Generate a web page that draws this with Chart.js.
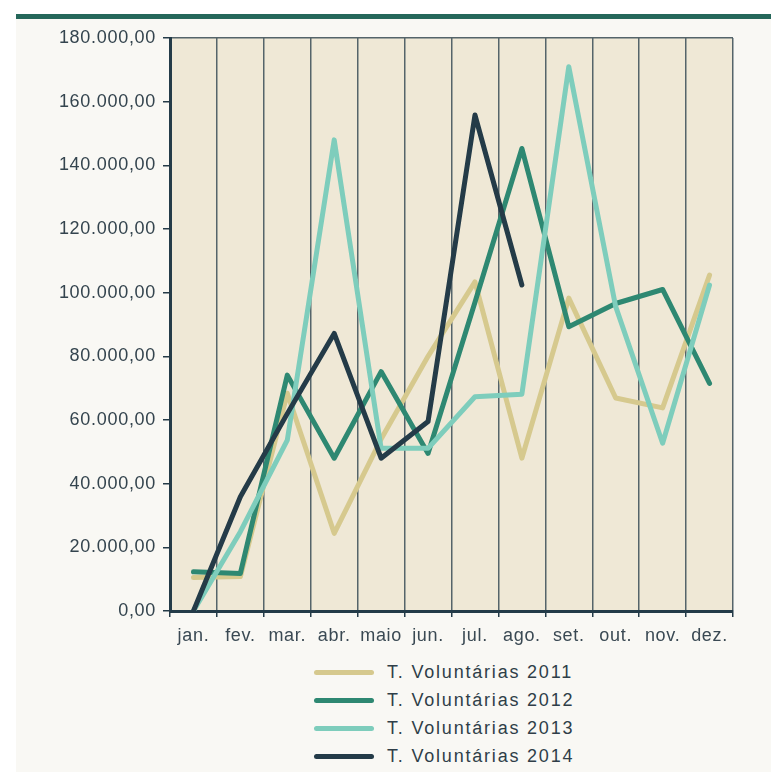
<!DOCTYPE html>
<html>
<head>
<meta charset="utf-8">
<script src="https://cdn.jsdelivr.net/npm/chart.js@4"></script>
<style>
  html, body { margin: 0; padding: 0; background: #fff; }
  body { width: 771px; height: 772px; position: relative; overflow: hidden; font-family: "Liberation Sans", Arial, sans-serif; }
  #frame { position: absolute; left: 16px; top: 14px; right: 0; bottom: 0; border-top: 5px solid #25675a; background: #f9f8f4; }
  #chart { position: absolute; left: 16px; top: 19px; }
  #legend { position: absolute; left: 314px; top: 658px; }
  .row { height: 28px; display: flex; align-items: center; }
  .swatch { width: 60px; height: 5px; border-radius: 3px; margin-right: 13px; }
  .txt { font-size: 18px; letter-spacing: 1.8px; color: #2f3e48; }
</style>
</head>
<body>
<div id="frame"></div>
<canvas id="chart" width="755" height="635"></canvas>
<div id="legend"></div>
<script>
// months
const meses = ['jan.', 'fev.', 'mar.', 'abr.', 'maio', 'jun.', 'jul.', 'ago.', 'set.', 'out.', 'nov.', 'dez.'];

// T. Voluntárias per year
const vol2011 = [10500, 10800, 68400, 24400, 54000, 80000, 103400, 48000, 98300, 66900, 63800, 105500];
const vol2012 = [12300, 11800, 74100, 48000, 75200, 49500, 97000, 145300, 89300, 96600, 101000, 71500];
const vol2013 = [0, 24900, 53700, 148000, 51100, 51100, 67300, 68100, 171000, 95600, 52700, 102400];
const vol2014 = [0, 35900, 62000, 87200, 48000, 59500, 155800, 102400];

const seriesNames = ['T. Voluntárias 2011', 'T. Voluntárias 2012', 'T. Voluntárias 2013', 'T. Voluntárias 2014'];
const seriesColors = ['#d6c98e', '#2e8872', '#7ecdbc', '#243b48'];

const yMax = 180000;
const yStep = 20000;

// 180000 -> "180.000,00"
function fmt(v) {
  const s = Math.round(v).toString().replace(/\B(?=(\d{3})+(?!\d))/g, '.');
  return s + ',00';
}

const navy = '#243b48';
const gridGray = '#55646a';

const plotBg = {
  id: 'plotBg',
  beforeLayout(chart) { chart.ctx.letterSpacing = '0.7px'; },
  beforeDraw(chart) {
    const { ctx, chartArea: a } = chart;
    ctx.letterSpacing = '0.7px';
    ctx.save();
    ctx.fillStyle = '#efe8d6';
    ctx.fillRect(a.left, a.top, a.right - a.left, a.bottom - a.top);
    ctx.restore();
  }
};

const allData = [vol2011, vol2012, vol2013, vol2014];

const chart = new Chart(document.getElementById('chart'), {
  type: 'line',
  data: {
    labels: meses,
    datasets: allData.map((d, i) => ({
      label: seriesNames[i],
      data: d,
      borderColor: seriesColors[i],
      backgroundColor: seriesColors[i],
      borderWidth: 5,
      pointRadius: 0,
      borderCapStyle: 'round',
      borderJoinStyle: 'round',
      tension: 0,
      fill: false,
      order: 3 - i
    }))
  },
  options: {
    responsive: false,
    devicePixelRatio: 1,
    animation: false,
    layout: { padding: { top: 19, right: 38, left: 0, bottom: 0 } },
    plugins: {
      legend: { display: false },
      tooltip: { enabled: false }
    },
    scales: {
      x: {
        offset: true,
        grid: {
          offset: true,
          color: gridGray,
          lineWidth: 1.5,
          tickColor: navy,
          tickLength: 6
        },
        border: { color: navy, width: 3 },
        ticks: {
          autoSkip: false,
          maxRotation: 0,
          padding: 8,
          color: '#3a4953',
          font: { family: '"Liberation Sans", Arial, sans-serif', size: 18 }
        },
        afterFit(scale) { scale.height = 43; }
      },
      y: {
        min: 0,
        max: yMax,
        ticks: {
          stepSize: yStep,
          padding: 7,
          color: '#34444e',
          font: { family: '"Liberation Sans", Arial, sans-serif', size: 18 },
          callback: v => fmt(v)
        },
        grid: {
          color: ctx => (ctx.tick && ctx.tick.value === yMax ? gridGray : 'rgba(0,0,0,0)'),
          lineWidth: 1.5,
          tickColor: navy,
          tickLength: 7
        },
        border: { color: navy, width: 3 },
        afterFit(scale) { scale.width = 154; }
      }
    }
  },
  plugins: [plotBg]
});

// legend below the chart
const legend = document.getElementById('legend');
chart.data.datasets.forEach(ds => {
  const row = document.createElement('div');
  row.className = 'row';
  const sw = document.createElement('span');
  sw.className = 'swatch';
  sw.style.background = ds.borderColor;
  const t = document.createElement('span');
  t.className = 'txt';
  t.textContent = ds.label;
  row.appendChild(sw);
  row.appendChild(t);
  legend.appendChild(row);
});
</script>
</body>
</html>
